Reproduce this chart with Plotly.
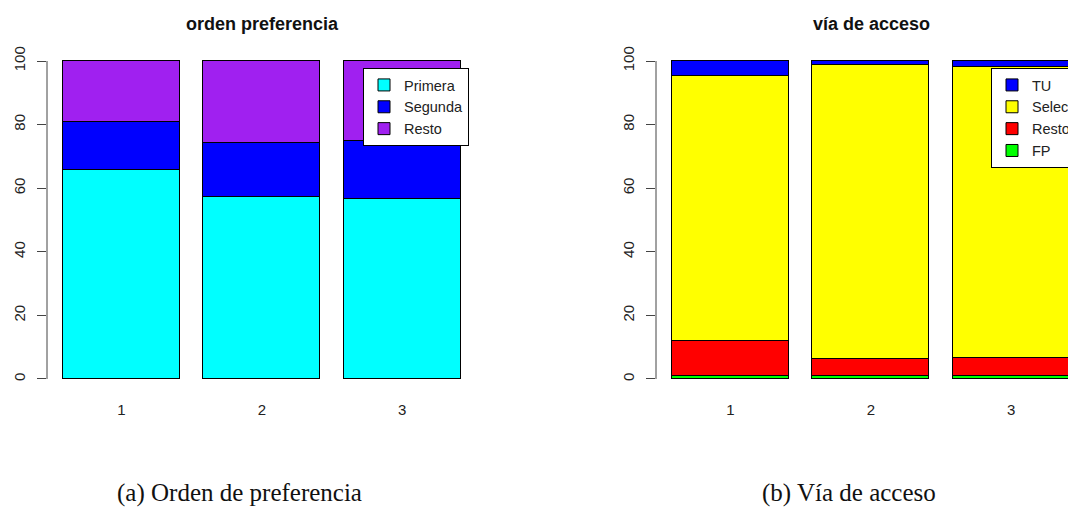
import plotly.graph_objects as go

W, H = 1068, 508

# ---- data ----
categories = ["1", "2", "3"]
x_pos = [0.7, 1.9, 3.1]

pref_primera = [65.7, 57.0, 56.5]
pref_segunda = [14.9, 17.1, 18.4]
pref_resto = [19.4, 25.9, 25.1]

acc_fp = [0.9, 0.9, 0.9]
acc_resto = [11.0, 5.4, 5.7]
acc_selectividad = [83.3, 92.4, 91.5]
acc_tu = [4.8, 1.3, 1.9]

left_title = "orden preferencia"
right_title = "vía de acceso"
caption_a = "(a) Orden de preferencia"
caption_b = "(b) Vía de acceso"

line = dict(color="black", width=1)

fig = go.Figure()

for name, vals, col in [("Primera", pref_primera, "#00FFFF"),
                        ("Segunda", pref_segunda, "#0000FF"),
                        ("Resto", pref_resto, "#A020F0")]:
    fig.add_trace(go.Bar(x=x_pos, y=vals, width=1, name=name,
                         marker=dict(color=col, line=line),
                         xaxis="x", yaxis="y", legend="legend"))

for name, vals, col in [("FP", acc_fp, "#00FF00"),
                        ("Resto", acc_resto, "#FF0000"),
                        ("Selectividad", acc_selectividad, "#FFFF00"),
                        ("TU", acc_tu, "#0000FF")]:
    fig.add_trace(go.Bar(x=x_pos, y=vals, width=1, name=name,
                         marker=dict(color=col, line=line),
                         xaxis="x2", yaxis="y2", legend="legend2"))

px_per_unit = 117.0
xl0 = 47.0
xr0 = 656.0
xmin = 0.064
left_dom = [xl0 / W, (xl0 + (3.736 - xmin) * px_per_unit) / W]
right_xmax = xmin + (W - xr0) / px_per_unit
right_dom = [xr0 / W, 1.0]
y_dom = [1 - 391.7 / H, 1 - 48.3 / H]

tickfont = dict(family="Liberation Sans, Arial", size=15, color="#222")
xax = dict(tickmode="array", tickvals=x_pos, ticktext=categories, showgrid=False,
           zeroline=False, showline=False, ticks="", tickfont=tickfont,
           ticklabelstandoff=7)
yax = dict(range=[-4, 104], tickvals=[0, 20, 40, 60, 80, 100], showgrid=False,
           zeroline=False, showline=False, ticks="outside", ticklen=9,
           tickcolor="#444", tickwidth=1, tickangle=-90, tickfont=tickfont,
           ticklabelstandoff=6, domain=y_dom)

legfont = dict(family="Liberation Sans, Arial", size=14.5, color="#222")
fig.update_layout(
    width=W, height=H, barmode="stack", bargap=0,
    margin=dict(l=0, r=0, t=0, b=0, autoexpand=False),
    plot_bgcolor="white", paper_bgcolor="white",
    xaxis=dict(domain=left_dom, range=[xmin, 3.736], **xax),
    yaxis=dict(anchor="x", **yax),
    xaxis2=dict(domain=right_dom, range=[xmin, right_xmax], anchor="y2", **xax),
    yaxis2=dict(anchor="x2", **yax),
    legend=dict(x=363 / W, y=1 - 68 / H, xanchor="left", yanchor="top",
                bgcolor="white", bordercolor="black", borderwidth=1,
                font=legfont, traceorder="normal", tracegroupgap=0,
                itemwidth=30),
    legend2=dict(x=991 / W, y=1 - 68 / H, xanchor="left", yanchor="top",
                 bgcolor="white", bordercolor="black", borderwidth=1,
                 font=legfont, traceorder="reversed", tracegroupgap=0,
                 itemwidth=30),
    showlegend=True,
)

for yref, xp in [("y", left_dom[0]), ("y2", right_dom[0])]:
    fig.add_shape(type="line", xref="paper", yref=yref, x0=xp, x1=xp, y0=0, y1=100,
                  line=dict(color="#444", width=1))

def note(text, x, y, font):
    fig.add_annotation(text=text, x=x / W, y=1 - y / H, xref="paper", yref="paper",
                       xanchor="center", yanchor="middle", showarrow=False, font=font)

titlefont = dict(family="Liberation Sans, Arial", size=18, color="#111")
note("<b>" + left_title + "</b>", 262, 24, titlefont)
note("<b>" + right_title + "</b>", 871, 24, titlefont)

capfont = dict(family="Liberation Serif, serif", size=25, color="#111")
note(caption_a, 239, 493, capfont)
note(caption_b, 849, 493, capfont)

post = ("document.body.style.margin='0';document.body.style.padding='0';"
        "document.body.style.overflow='hidden';"
        "document.documentElement.style.overflow='hidden';")
fig.write_html("out.html", config={"responsive": False, "displayModeBar": False},
               post_script=post)
